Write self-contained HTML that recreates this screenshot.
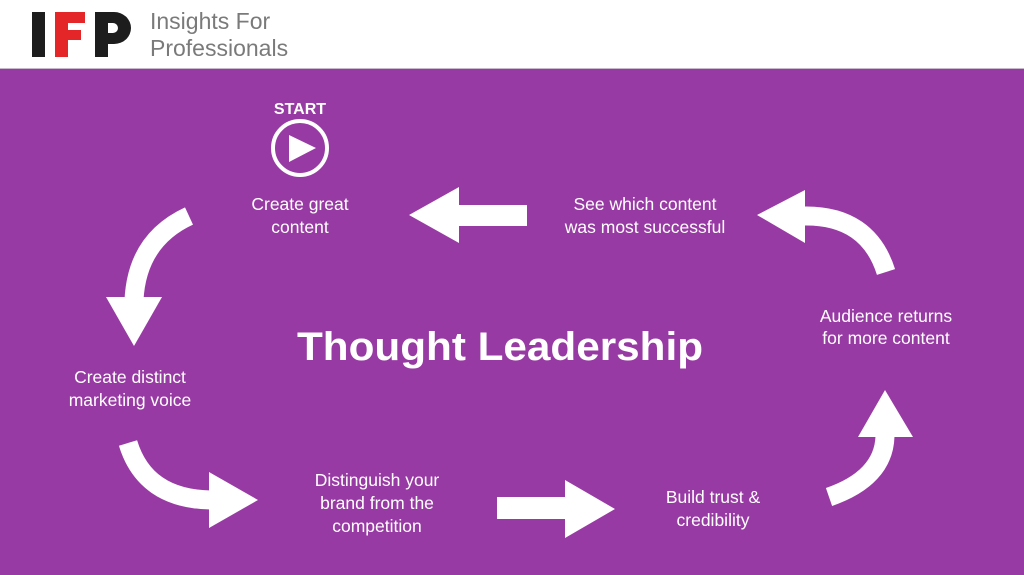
<!DOCTYPE html>
<html><head><meta charset="utf-8"><style>
html,body{margin:0;padding:0;width:1024px;height:575px;overflow:hidden;background:#fff}
svg{display:block}
text{font-family:"Liberation Sans",sans-serif}
</style></head><body>
<svg width="1024" height="575" viewBox="0 0 1024 575" xmlns="http://www.w3.org/2000/svg">
<rect x="0" y="0" width="1024" height="69" fill="#fff"/>
<rect x="0" y="68" width="1024" height="1" fill="#c8b8cc"/>
<rect x="0" y="69" width="1024" height="506" fill="#983aa3"/>
<!-- logo -->
<rect x="32" y="12" width="13" height="45" fill="#1d1d1d"/>
<rect x="55" y="12" width="13" height="45" fill="#e52629"/>
<rect x="55" y="12" width="30" height="11" fill="#e52629"/>
<rect x="55" y="30" width="26" height="10" fill="#e52629"/>
<path d="M95 12 H114 A17 16 0 0 1 114 44 H108 V57 H95 Z M108 23 V33 H113 A5 5 0 0 0 113 23 Z" fill="#1d1d1d" fill-rule="evenodd"/>
<text x="150" y="29" font-size="23" fill="#7a7a7a">Insights For</text>
<text x="150" y="56" font-size="23" fill="#7a7a7a">Professionals</text>
<!-- start -->
<text x="300" y="114" font-size="16" font-weight="bold" fill="#fff" text-anchor="middle">START</text>
<circle cx="300" cy="148" r="27" fill="none" stroke="#fff" stroke-width="4"/>
<polygon points="289,135 289,162 316,148" fill="#fff"/>
<g fill="#fff" font-size="17.5" text-anchor="middle">
<text x="300" y="210">Create great</text>
<text x="300" y="233">content</text>
<text x="645" y="210">See which content</text>
<text x="645" y="233">was most successful</text>
<text x="130" y="383">Create distinct</text>
<text x="130" y="406">marketing voice</text>
<text x="377" y="486">Distinguish your</text>
<text x="377" y="509">brand from the</text>
<text x="377" y="532">competition</text>
<text x="713" y="503">Build trust &amp;</text>
<text x="713" y="526">credibility</text>
<text x="886" y="322">Audience returns</text>
<text x="886" y="344">for more content</text>
</g>
<text x="297" y="360" font-size="40" font-weight="bold" fill="#fff" textLength="406" lengthAdjust="spacingAndGlyphs">Thought Leadership</text>
<!-- arrows -->
<g fill="#fff">
<polygon points="527,205 459,205 459,187 409,215 459,243 459,226 527,226"/>
<polygon points="497,497 565,497 565,480 615,509 565,538 565,519 497,519"/>
<polygon points="106,297 162,297 134,346"/>
<polygon points="209,472 209,528 258,500"/>
<polygon points="858,437 913,437 885,390"/>
<polygon points="805,190 805,243 757,215"/>
</g>
<g fill="none" stroke="#fff" stroke-width="19">
<path d="M189,216 Q137,240 134,300"/>
<path d="M128,443 Q145,499 211,500"/>
<path d="M829,497 Q884,478 885,436"/>
<path d="M886,272 Q868,215 804,216"/>
</g>
</svg>
</body></html>
